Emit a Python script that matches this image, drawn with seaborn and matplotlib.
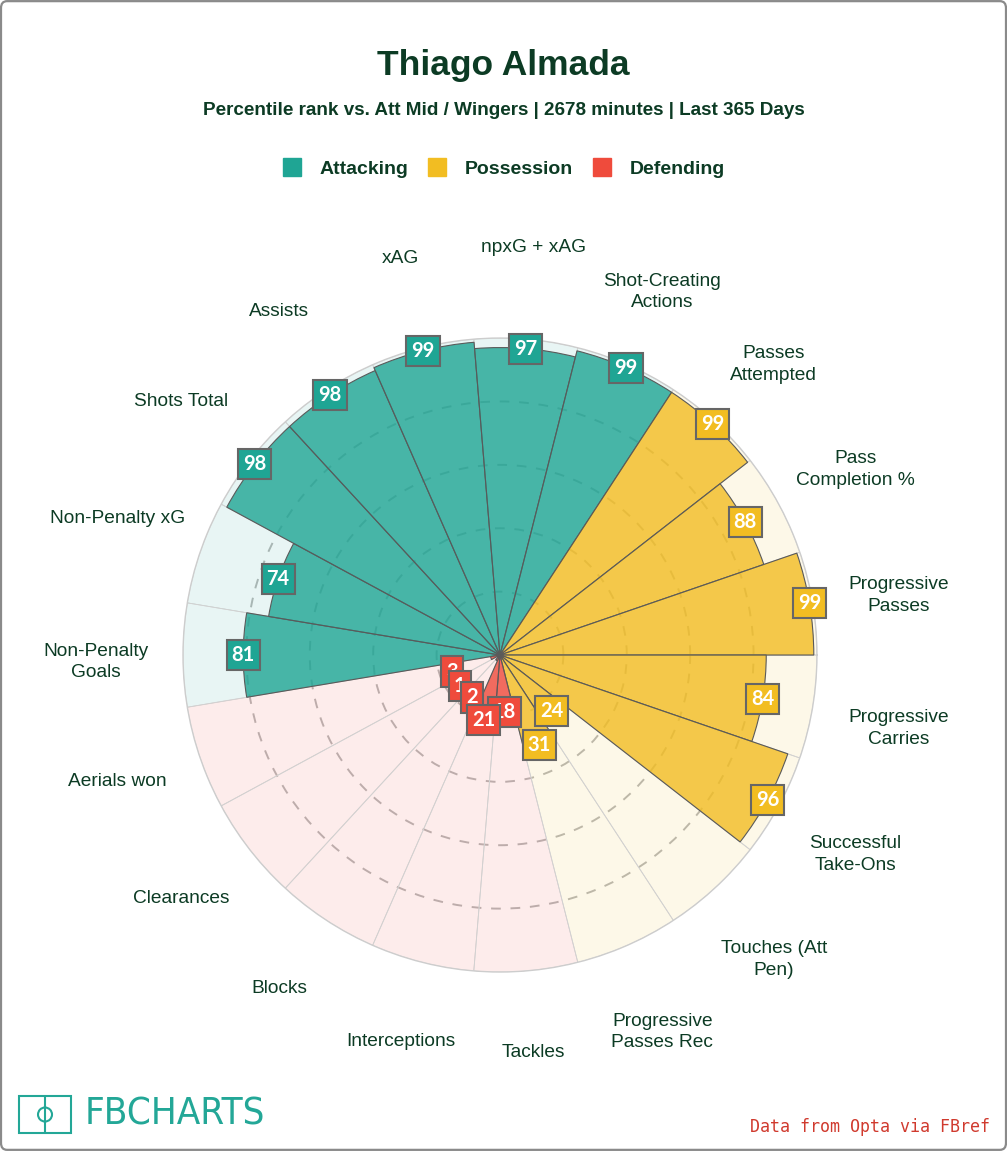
import numpy as np
import pandas as pd
import matplotlib.pyplot as plt
import seaborn as sns
from matplotlib.colors import to_rgba
from matplotlib.lines import Line2D
from matplotlib.patches import Rectangle, Ellipse, FancyBboxPatch

# theme first, then fonts (set_theme resets font.family)
sns.set_theme(style="white")
plt.rcParams['font.family'] = ['Liberation Sans', 'DejaVu Sans']

# data, clockwise from the left
params = ['Non-Penalty\nGoals', 'Non-Penalty xG', 'Shots Total', 'Assists', 'xAG',
          'npxG + xAG', 'Shot-Creating\nActions', 'Passes\nAttempted', 'Pass\nCompletion %',
          'Progressive\nPasses', 'Progressive\nCarries', 'Successful\nTake-Ons',
          'Touches (Att\nPen)', 'Progressive\nPasses Rec', 'Tackles', 'Interceptions',
          'Blocks', 'Clearances', 'Aerials won']
values = [81, 74, 98, 98, 99, 97, 99,
          99, 88, 99, 84, 96, 24, 31,
          18, 21, 2, 1, 3]
groups = ['Attacking', 'Attacking', 'Attacking', 'Attacking', 'Attacking', 'Attacking', 'Attacking',
          'Possession', 'Possession', 'Possession', 'Possession', 'Possession', 'Possession', 'Possession',
          'Defending', 'Defending', 'Defending', 'Defending', 'Defending']
legend_names = ['Attacking', 'Possession', 'Defending']

df = pd.DataFrame({'param': params, 'value': values, 'group': groups})

palette = dict(zip(legend_names, sns.color_palette(['#1FA594', '#F2BD22', '#EF4B3C'])))
txt = '#0C3B24'

fig = plt.figure(figsize=(10.07, 11.51), dpi=100)
ax = fig.add_axes([0.1817, 0.1555, 0.6296, 0.5508], projection='polar')

n = len(df)
width = 2 * np.pi / n
df['theta'] = np.pi - np.arange(n) * width
df['color'] = df['group'].map(palette)

# light background slices up to 100
ax.bar(df['theta'], np.full(n, 100), width=width,
       color=[to_rgba(c, 0.1) for c in df['color']],
       edgecolor='#D2D2D2', linewidth=0.6, zorder=1)
# percentile bars
ax.bar(df['theta'], df['value'], width=width,
       color=[to_rgba(c, 0.8) for c in df['color']],
       edgecolor='#5A5A5A', linewidth=0.8, zorder=2)

ax.set_ylim(0, 100)
ax.set_xticks([])
ax.set_yticks([20, 40, 60, 80])
ax.set_yticklabels([])
ax.xaxis.grid(False)
ax.yaxis.grid(True, linestyle=(0, (5, 5)), color='#B8B8B8', linewidth=1.4)
ax.set_axisbelow(True)
ax.spines['polar'].set_color('#CDCDCD')
ax.spines['polar'].set_linewidth(1)
ax.set_facecolor('white')

# value boxes (small values pile up near the centre; interceptions box sits on top)
for i, row in df.iterrows():
    ax.text(row['theta'], max(row['value'], 16), str(row['value']),
            ha='center', va='center', fontsize=14.5, fontweight='bold',
            family=['Lato', 'DejaVu Sans'], color='white', zorder=40 - abs(i - 15),
            bbox=dict(boxstyle='square,pad=0.25', facecolor=row['color'],
                      edgecolor='#666666', linewidth=1.5))

# parameter names
for _, row in df.iterrows():
    dy = -5 if '\n' in row['param'] else 3.5
    ax.annotate(row['param'], xy=(row['theta'], 127.5), xytext=(0, dy),
                textcoords='offset points', ha='center', va='center',
                fontsize=13.8, color=txt, linespacing=1.35, annotation_clip=False)

# titles
fig.text(0.5, 0.9435, 'Thiago Almada', ha='center', va='center',
         fontsize=25.5, fontweight='bold', color=txt)
fig.text(0.5, 0.9036, 'Percentile rank vs. Att Mid / Wingers | 2678 minutes | Last 365 Days',
         ha='center', va='center', fontsize=13.6, fontweight='bold', color=txt)

handles = [Line2D([], [], marker='s', linestyle='none', markersize=12.5,
                  markerfacecolor=palette[g], markeredgecolor=palette[g]) for g in legend_names]
fig.legend(handles, legend_names, loc='center', bbox_to_anchor=(0.5, 0.853), ncol=3,
           frameon=False, prop={'weight': 'bold', 'size': 14}, labelcolor=txt,
           handlelength=1, handletextpad=0.9, columnspacing=1.0)

# logo + credit
teal = '#23A797'
fig.patches.append(Rectangle((0.0189, 0.0156), 0.0516, 0.0322, fill=False,
                             edgecolor=teal, linewidth=1.5, transform=fig.transFigure))
fig.lines.append(Line2D([0.0447, 0.0447], [0.0156, 0.0478], color=teal,
                        linewidth=1.5, transform=fig.transFigure))
fig.patches.append(Ellipse((0.0447, 0.0317), 14 / 1007, 14 / 1151, fill=False,
                           edgecolor=teal, linewidth=1.5, transform=fig.transFigure))
fig.text(0.0844, 0.0317, 'FBCHARTS', ha='left', va='center', fontsize=27.5,
         fontweight='light', fontstretch='condensed', family=['DejaVu Sans'], color=teal)
fig.text(0.983, 0.0209, 'Data from Opta via FBref', ha='right', va='center',
         fontsize=12, family=['DejaVu Sans Mono'], color='#D03A2E')

fig.patches.append(FancyBboxPatch((0.001, 0.001), 0.998, 0.998,
                                  boxstyle='round,pad=0,rounding_size=0.006',
                                  fill=False, edgecolor='#8A8A8A', linewidth=1.6,
                                  transform=fig.transFigure))

fig.savefig('out.png', dpi=100, facecolor='white')
